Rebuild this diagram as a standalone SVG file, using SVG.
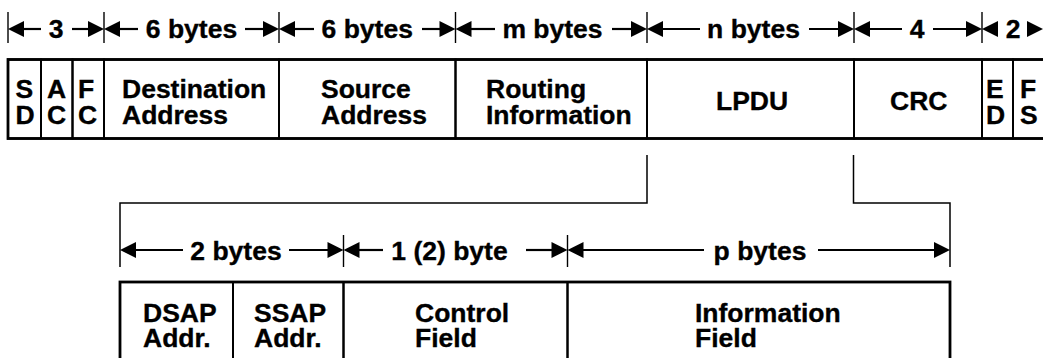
<svg xmlns="http://www.w3.org/2000/svg" width="1043" height="358" viewBox="0 0 1043 358">
<style>
  .cell { fill: none; stroke: #000; stroke-width: 2; }
  .frame { fill: none; stroke: #000; stroke-width: 2.8; }
  .t { font-family: "Liberation Sans", Arial, Helvetica, sans-serif; font-weight: bold; font-size: 26.5px; fill: #000; stroke: #000; stroke-width: 0.35; }
  .m { text-anchor: middle; }
  .dim { stroke: #000; stroke-width: 2.2; fill: none; }
  .ah { fill: #000; stroke: none; }
  .tick { stroke: #000; stroke-width: 1.4; fill: none; }
  .conn { stroke: #000; stroke-width: 1.5; fill: none; }
</style>
<defs>
  <path id="ahR" d="M0,0 L-16,-8 L-16,8 Z"/>
  <path id="ahL" d="M0,0 L16,-8 L16,8 Z"/>
</defs>
<rect width="1043" height="358" fill="#fff"/>

<!-- top frame -->
<g id="frame">
  <g id="sd"><rect class="cell" x="8" y="59.5" width="33" height="79"/><text class="t" x="15.5" y="98">S<tspan x="15.5" dy="26">D</tspan></text></g>
  <g id="ac"><rect class="cell" x="41" y="59.5" width="31.5" height="79"/><text class="t" x="47" y="98">A<tspan x="47" dy="26">C</tspan></text></g>
  <g id="fc"><rect class="cell" x="72.5" y="59.5" width="31.5" height="79"/><text class="t" x="78" y="98">F<tspan x="78" dy="26">C</tspan></text></g>
  <g id="dest"><rect class="cell" x="104" y="59.5" width="175" height="79"/><text class="t" x="122" y="98">Destination<tspan x="122" dy="26">Address</tspan></text></g>
  <g id="src"><rect class="cell" x="279" y="59.5" width="176.5" height="79"/><text class="t" x="321" y="98">Source<tspan x="321" dy="26">Address</tspan></text></g>
  <g id="rif"><rect class="cell" x="455.5" y="59.5" width="191.5" height="79"/><text class="t" x="486" y="98">Routing<tspan x="486" dy="26">Information</tspan></text></g>
  <g id="lpdu"><rect class="cell" x="647" y="59.5" width="207" height="79"/><text class="t" x="716" y="110">LPDU</text></g>
  <g id="crc"><rect class="cell" x="854" y="59.5" width="128" height="79"/><text class="t" x="890" y="110">CRC</text></g>
  <g id="ed"><rect class="cell" x="982" y="59.5" width="31" height="79"/><text class="t" x="986" y="98">E<tspan x="986" dy="26">D</tspan></text></g>
  <g id="fs"><rect class="cell" x="1013" y="59.5" width="50" height="79"/><text class="t" x="1020" y="98">F<tspan x="1020" dy="26">S</tspan></text></g>
  <rect class="frame" x="8" y="59.5" width="1060" height="79"/>
</g>

<!-- bottom frame -->
<g id="lpdu-detail">
  <g id="dsap"><rect class="cell" x="120" y="282" width="113" height="100"/><text class="t" x="143" y="322">DSAP<tspan x="143" dy="25">Addr.</tspan></text></g>
  <g id="ssap"><rect class="cell" x="233" y="282" width="110.5" height="100"/><text class="t" x="254" y="322">SSAP<tspan x="254" dy="25">Addr.</tspan></text></g>
  <g id="control"><rect class="cell" x="343.5" y="282" width="224" height="100"/><text class="t" x="415" y="322">Control<tspan x="415" dy="25">Field</tspan></text></g>
  <g id="info"><rect class="cell" x="567.5" y="282" width="382.5" height="100"/><text class="t" x="695" y="322">Information<tspan x="695" dy="25">Field</tspan></text></g>
  <rect class="frame" x="120" y="282" width="830" height="100"/>
</g>

<!-- dimension lines -->
<g id="dimensions">
  <g class="ticks">
    <line class="tick" x1="8" y1="12" x2="8" y2="43"/>
    <line class="tick" x1="104" y1="12" x2="104" y2="43"/>
    <line class="tick" x1="279" y1="12" x2="279" y2="43"/>
    <line class="tick" x1="455.5" y1="12" x2="455.5" y2="43"/>
    <line class="tick" x1="647" y1="12" x2="647" y2="43"/>
    <line class="tick" x1="854" y1="12" x2="854" y2="43"/>
    <line class="tick" x1="982" y1="12" x2="982" y2="43"/>
    <line class="tick" x1="343.5" y1="235" x2="343.5" y2="267"/>
    <line class="tick" x1="567.5" y1="235" x2="567.5" y2="267"/>
  </g>
  <g class="lines">
    <line class="dim" x1="41" y1="29" x2="20" y2="29"/><line class="dim" x1="72" y1="29" x2="92" y2="29"/>
    <line class="dim" x1="138" y1="29" x2="116" y2="29"/><line class="dim" x1="245" y1="29" x2="267" y2="29"/>
    <line class="dim" x1="314" y1="29" x2="291" y2="29"/><line class="dim" x1="422" y1="29" x2="443" y2="29"/>
    <line class="dim" x1="495" y1="29" x2="467" y2="29"/><line class="dim" x1="612" y1="29" x2="635" y2="29"/>
    <line class="dim" x1="700" y1="29" x2="659" y2="29"/><line class="dim" x1="809" y1="29" x2="842" y2="29"/>
    <line class="dim" x1="902" y1="29" x2="866" y2="29"/><line class="dim" x1="933" y1="29" x2="970" y2="29"/>
    <line class="dim" x1="183" y1="250" x2="132" y2="250"/><line class="dim" x1="289" y1="250" x2="331" y2="250"/>
    <line class="dim" x1="383" y1="250" x2="355" y2="250"/><line class="dim" x1="526" y1="250" x2="555" y2="250"/>
    <line class="dim" x1="704" y1="250" x2="579" y2="250"/><line class="dim" x1="818" y1="250" x2="938" y2="250"/>
  </g>
  <g class="heads">
    <use href="#ahL" class="ah" x="8" y="29"/><use href="#ahR" class="ah" x="104" y="29"/>
    <use href="#ahL" class="ah" x="104" y="29"/><use href="#ahR" class="ah" x="279" y="29"/>
    <use href="#ahL" class="ah" x="279" y="29"/><use href="#ahR" class="ah" x="455.5" y="29"/>
    <use href="#ahL" class="ah" x="455.5" y="29"/><use href="#ahR" class="ah" x="647" y="29"/>
    <use href="#ahL" class="ah" x="647" y="29"/><use href="#ahR" class="ah" x="854" y="29"/>
    <use href="#ahL" class="ah" x="854" y="29"/><use href="#ahR" class="ah" x="982" y="29"/>
    <use href="#ahL" class="ah" x="982" y="29"/><use href="#ahR" class="ah" x="1043" y="29"/>
    <use href="#ahL" class="ah" x="120" y="250"/><use href="#ahR" class="ah" x="343.5" y="250"/>
    <use href="#ahL" class="ah" x="343.5" y="250"/><use href="#ahR" class="ah" x="567.5" y="250"/>
    <use href="#ahL" class="ah" x="567.5" y="250"/><use href="#ahR" class="ah" x="950" y="250"/>
  </g>
  <text class="t m" x="56" y="38">3</text>
  <text class="t m" x="191.5" y="38">6 bytes</text>
  <text class="t m" x="367.25" y="38">6 bytes</text>
  <text class="t m" x="552.5" y="38">m bytes</text>
  <text class="t m" x="753.5" y="38">n bytes</text>
  <text class="t m" x="917" y="38">4</text>
  <text class="t m" x="1013" y="38">2</text>
  <text class="t m" x="236" y="260">2 bytes</text>
  <text class="t m" x="449.5" y="260">1 (2) byte</text>
  <text class="t m" x="760" y="260">p bytes</text>
</g>

<!-- connectors (expansion bracket) -->
<g id="connectors">
  <polyline class="conn" points="647,155 647,203 120,203 120,267"/>
  <polyline class="conn" points="853.5,155 853.5,203 950,203 950,267"/>
</g>
</svg>
